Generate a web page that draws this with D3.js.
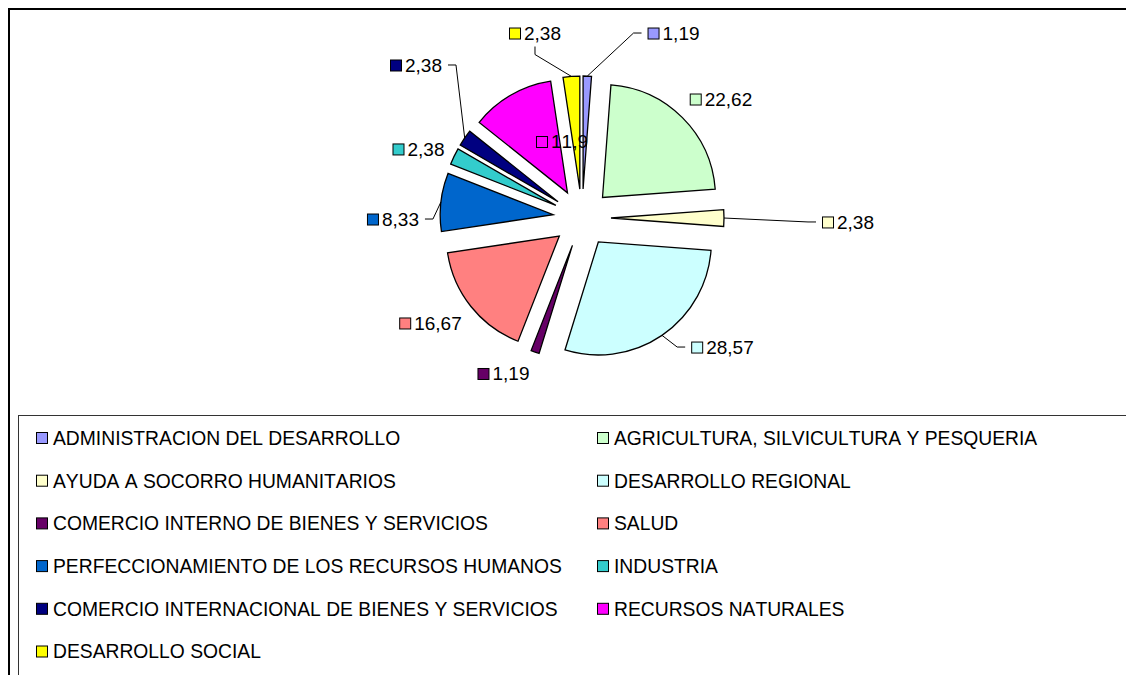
<!DOCTYPE html>
<html>
<head>
<meta charset="utf-8">
<script src="https://cdn.jsdelivr.net/npm/d3@7"></script>
<style>
  body { margin: 0; background: #fff; }
  text { font-family: "Liberation Sans", Arial, sans-serif; fill: #000; font-kerning: none; }
</style>
</head>
<body>
<div id="chart"></div>
<script>
const categories = [
  "ADMINISTRACION DEL DESARROLLO",
  "AGRICULTURA, SILVICULTURA Y PESQUERIA",
  "AYUDA A SOCORRO HUMANITARIOS",
  "DESARROLLO REGIONAL",
  "COMERCIO INTERNO DE BIENES Y SERVICIOS",
  "SALUD",
  "PERFECCIONAMIENTO DE LOS RECURSOS HUMANOS",
  "INDUSTRIA",
  "COMERCIO INTERNACIONAL DE BIENES Y SERVICIOS",
  "RECURSOS NATURALES",
  "DESARROLLO SOCIAL"
];
const values = [1.19, 22.62, 2.38, 28.57, 1.19, 16.67, 8.33, 2.38, 2.38, 11.9, 2.38];
const colors = ["#9999FF", "#CCFFCC", "#FFFFCC", "#CCFFFF", "#660066", "#FF8080",
                "#0066CC", "#33CCCC", "#000080", "#FF00FF", "#FFFF00"];

// data labels were dragged by hand in the original: centre of each label, in pie radii from the pie centre
const labelSpots = [
  [0.81, -1.637], [1.23, -1.053], [2.354, 0.035], [1.243, 1.142],
  [-0.695, 1.376], [-1.341, 0.929], [-1.673, 0.009], [-1.447, -0.611],
  [-1.469, -1.354], [-0.177, -0.677], [-0.416, -1.637]
];
// which labels get a leader line, and from which side
const leaderSide = ["h", null, "h", "h", null, null, "h", null, "h", null, "v"];

const W = 1126, H = 675;
const cx = 582, cy = 218, r = 113, explode = 29;

const svg = d3.select("#chart")
  .append("svg")
  .attr("width", W)
  .attr("height", H);

svg.append("rect").attr("width", W).attr("height", H).attr("fill", "#fff");

// chart frame (runs off right and bottom)
svg.append("rect")
  .attr("x", 9).attr("y", 9)
  .attr("width", W + 20).attr("height", H + 20)
  .attr("fill", "none").attr("stroke", "#000").attr("stroke-width", 2);

const fmt = v => String(v).replace(".", ",");

const pie = d3.pie().sort(null).value(d => d);
const arcs = pie(values);
const arc = d3.arc().innerRadius(0).outerRadius(r);

const g = svg.append("g").attr("transform", `translate(${cx},${cy})`);

const mid = d => (d.startAngle + d.endAngle) / 2;
const shift = d => [explode * Math.sin(mid(d)), -explode * Math.cos(mid(d))];

// slices
g.selectAll(".slice")
  .data(arcs)
  .join("path")
  .attr("class", "slice")
  .attr("transform", d => `translate(${shift(d)[0]},${shift(d)[1]})`)
  .attr("d", arc)
  .attr("fill", (d, i) => colors[i])
  .attr("stroke", "#000")
  .attr("stroke-width", 1.3)
  .attr("stroke-linejoin", "miter");

// data labels
const fs = 19, sq = 11;
arcs.forEach((d, i) => {
  const lx = labelSpots[i][0] * r, ly = labelSpots[i][1] * r;
  const lab = g.append("g");
  const t = lab.append("text")
    .style("font-size", fs + "px")
    .attr("y", ly + fs * 0.36)
    .text(fmt(values[i]));
  const tw = t.node().getComputedTextLength();
  const bw = sq + 4 + tw;
  const x0 = lx - bw / 2;
  t.attr("x", x0 + sq + 4);
  lab.insert("rect", "text")
    .attr("x", x0 + 0.5).attr("y", ly - sq / 2 + 0.5)
    .attr("width", sq).attr("height", sq)
    .attr("fill", colors[i]).attr("stroke", "#000").attr("stroke-width", 1);

  const side = leaderSide[i];
  if (!side) return;
  const s = shift(d);
  const ax = s[0] + r * Math.sin(mid(d)), ay = s[1] - r * Math.cos(mid(d));
  let end, stub;
  if (side === "h") {
    if (ax < lx) { end = [x0 - 6, ly]; stub = [x0 - 14, ly]; }
    else { end = [x0 + bw + 6, ly]; stub = [x0 + bw + 14, ly]; }
  } else {
    if (ay > ly) { end = [lx, ly + sq / 2 + 8]; stub = [lx, ly + sq / 2 + 16]; }
    else { end = [lx, ly - sq / 2 - 8]; stub = [lx, ly - sq / 2 - 16]; }
  }
  g.append("path")
    .attr("d", d3.line()([[ax, ay], stub, end]))
    .attr("fill", "none").attr("stroke", "#000").attr("stroke-width", 1);
});

// legend box (runs off right and bottom)
svg.append("rect")
  .attr("x", 18.5).attr("y", 415.5)
  .attr("width", W).attr("height", H)
  .attr("fill", "none").attr("stroke", "#333").attr("stroke-width", 1);

const colX = [36, 597], rowY0 = 438, rowStep = 42.7, lsq = 12, lfs = 19.3;
const legend = svg.selectAll(".legend")
  .data(categories)
  .join("g")
  .attr("class", "legend")
  .attr("transform", (d, i) => `translate(${colX[i % 2]},${rowY0 + Math.floor(i / 2) * rowStep})`);

legend.append("rect")
  .attr("x", 0.5).attr("y", -lsq / 2 + 0.5)
  .attr("width", lsq - 1).attr("height", lsq - 1)
  .attr("fill", (d, i) => colors[i])
  .attr("stroke", "#000").attr("stroke-width", 1);

legend.append("text")
  .attr("x", 17)
  .attr("y", lfs * 0.36)
  .style("font-size", lfs + "px")
  .text(d => d);
</script>
</body>
</html>
